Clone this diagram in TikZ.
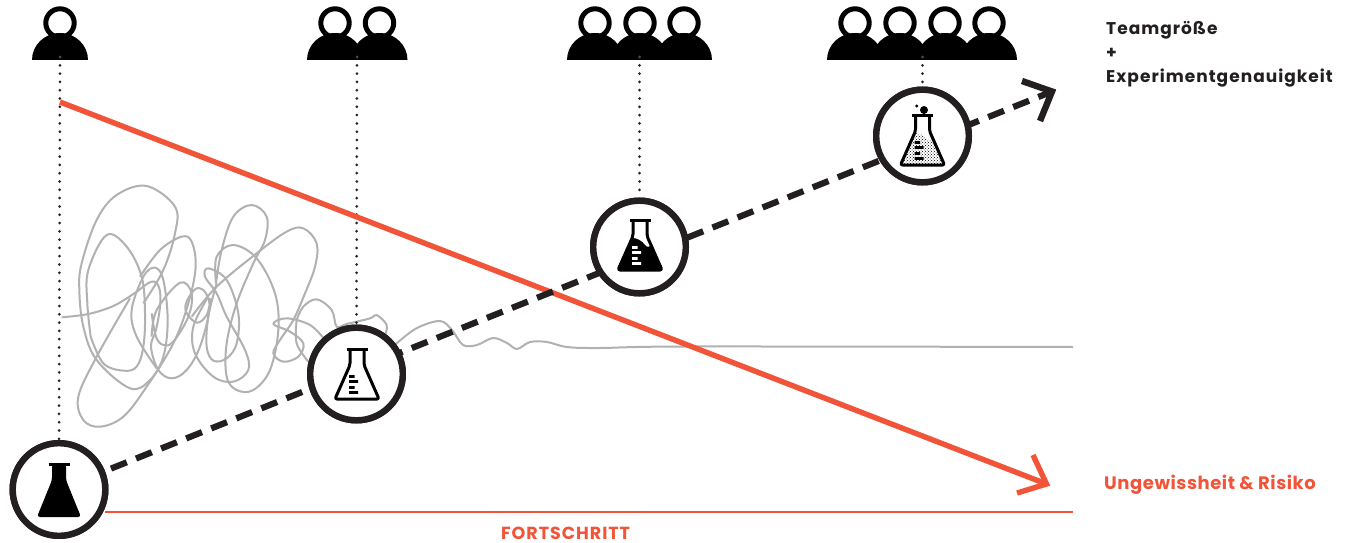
\documentclass[tikz,border=0pt]{standalone}
\usepackage{fontspec}
\setmainfont{Poppins}[BoldFont={Poppins Bold}]
\newfontfamily\laba{Poppins}[BoldFont={Poppins Bold},LetterSpace=6]
\newfontfamily\labb{Poppins}[BoldFont={Poppins Bold},LetterSpace=3]
\newfontfamily\labc{Poppins}[BoldFont={Poppins Bold},LetterSpace=5.5]
\usetikzlibrary{patterns}
\definecolor{ink}{HTML}{231F20}
\definecolor{redline}{HTML}{F15438}
\definecolor{scrib}{HTML}{B1B1B3}
\tikzset{
  x=1pt,y=-1pt,
  stage/.style={circle,draw=ink,line width=6.4pt,fill=white,minimum size=92.6pt,inner sep=0pt},
  dotline/.style={black!85,line width=3pt,line cap=round,dash pattern=on 0pt off 8.3pt},
  scribline/.style={scrib,line width=2pt,line join=round},
  dashline/.style={ink,line width=6.2pt,dash pattern=on 17pt off 10pt},
  headtip/.style={ink,line width=6.4pt,miter limit=10},
  redtip/.style={redline,line width=5.4pt,miter limit=10},
  lab/.style={inner sep=0pt,anchor=base west},
  laba/.style={lab,font=\laba\bfseries\fontsize{17}{19}\selectfont},
  labb/.style={lab,font=\labb\bfseries\fontsize{18}{20}\selectfont},
  labc/.style={lab,font=\labc\bfseries\fontsize{17.5}{19}\selectfont},
  pics/person/.style={code={
    \draw[black,fill=white,line width=5pt] (0,23) circle[radius=14.2];
    \fill[black] (-28,60) arc[start angle=180,end angle=360,x radius=28,y radius=27] -- cycle;
  }},
  pics/flaskshape/.style={code={
    \draw[black,line width=#1,line join=round,rounded corners=2pt] (-7,1)--(-7,17)--(-22,51)--(22,51)--(7,17)--(7,1);
    \draw[black,line width=3pt] (-10.5,1)--(10.5,1);
  }},
}
\newcommand{\ticks}[1]{\fill[#1] (-8,27) rectangle (-2.5,29.8) (-8,32) rectangle (1,34.8) (-8,38) rectangle (-2.5,40.8) (-8,43) rectangle (1,45.8);}
\begin{document}
\begin{tikzpicture}
\useasboundingbox (0,0) rectangle (1349,543);
\fill[white] (0,0) rectangle (1349,543);
% scribble
\begin{scope}[yshift=-170pt,x=0.33333pt,y=-0.33333pt]
\draw[scribline] plot[smooth,tension=0.6] coordinates {(185,442)(265,432)(340,408)(400,372)(455,335)(478,355)(480,410)(468,480)(453,530)(475,600)(515,625)(560,600)(600,530)(628,420)(618,370)(590,355)(562,390)(558,425)(590,458)(620,435)(632,385)};
\draw[scribline] plot[smooth,tension=0.6] coordinates {(430,400)(490,300)(525,190)(525,110)(440,48)(350,75)(290,150)(245,280)(238,360)(250,470)(290,570)(390,655)(450,630)(490,560)(503,450)(490,330)(465,293)(430,320)(395,420)(410,500)(470,595)};
\draw[scribline] plot[smooth,tension=0.6] coordinates {(272,500)(262,400)(265,300)(320,195)(380,230)(425,320)(435,430)(430,530)(410,590)(370,602)(310,580)(272,500)};
\draw[scribline] plot[smooth,tension=0.6] coordinates {(420,320)(480,240)(545,200)(575,215)(587,290)(565,400)(520,520)(440,650)(370,740)(300,770)(250,750)(235,680)(290,560)(390,385)};
\draw[scribline] plot[smooth,tension=0.6] coordinates {(455,500)(470,420)(540,338)(575,370)(565,440)(520,515)(490,525)(468,500)(455,430)};
\draw[scribline] plot[smooth,tension=0.6] coordinates {(625,380)(580,470)(585,550)(640,620)(700,635)(745,600)(735,540)(680,440)(650,370)(615,320)(625,295)(680,330)(715,430)(710,520)(680,565)(640,572)(620,530)(625,440)(650,340)};
\draw[scribline] plot[smooth,tension=0.6] coordinates {(648,340)(665,240)(700,140)(755,105)(800,140)(795,210)(760,280)(710,400)(680,520)(680,620)(710,660)(760,660)(810,600)(835,480)(825,370)(770,265)(700,225)(650,260)(648,340)};
\draw[scribline] plot[smooth,tension=0.6] coordinates {(575,440)(650,350)(770,250)(860,185)(910,175)(950,220)(945,290)(915,370)(880,450)(840,510)(820,550)(850,575)(895,560)(910,520)(870,485)(820,462)(860,445)(930,465)(975,510)};
\draw[scribline] plot[smooth,tension=0.6] coordinates {(890,450)(910,410)(950,388)(995,420)(1010,470)(1040,462)(1110,445)(1130,435)(1160,465)(1155,495)};
\draw[scribline] plot[smooth,tension=0.6] coordinates {(890,450)(890,520)(925,575)};
\end{scope}
\draw[scribline] plot[smooth,tension=0.55] coordinates {(390,350)(397,343)(417,328)(440,321)(452,330)(463,345)(477,345)(493,338)(507,343)(517,349)(530,342)(547,342)(567,347)(600,348)(690,346.5)(1073,347)};
% positions
\node[stage] (c1) at (59,489.5) {};
\node[stage] (c2) at (356.5,374) {};
\node[stage] (c3) at (639.5,247) {};
\node[stage] (c4) at (922.5,136) {};
\coordinate (p1) at (60,57);
\coordinate (p2) at (357,57);
\coordinate (p3) at (639.5,57);
\coordinate (p4) at (922.5,57);
\coordinate (rs) at (60,102);
\coordinate (rt) at (1046.5,484);
\coordinate (rta) at (1033,455);
\coordinate (rtb) at (1017,493);
\coordinate (ds) at (111,468.6);
\coordinate (dt) at (1052,91.5);
\coordinate (dta) at (1022,81);
\coordinate (dtb) at (1040,121);
\coordinate (bs) at (105,512);
\coordinate (be) at (1073,512);
\draw[dotline] (p1)--(c1.north);
\draw[dotline] (p2)--(c2.north);
\draw[dotline] (p3)--(c3.north);
\draw[dotline] (p4)--(c4.north);
\draw[redline,line width=5.4pt] (rs)--(rt);
\draw[redtip] (rta)--(rt)--(rtb);
\draw[redline,line width=2.2pt] (bs)--(be);
\draw[dashline] (ds)--(dt);
\draw[headtip] (dta)--(dt)--(dtb);
\node[stage] at (c1) {};
\node[stage] at (c2) {};
\node[stage] at (c3) {};
\node[stage] at (c4) {};
% flasks
\begin{scope}[shift={(59,463)}]
\fill[black,rounded corners=3pt] (-7,1)--(-7,17)--(-22,54)--(22,54)--(7,17)--(7,1)--cycle;
\draw[black,line width=3pt] (-10.5,1)--(10.5,1);
\end{scope}
\begin{scope}[shift={(357,348)}]
\pic{flaskshape=3pt};
\ticks{black}
\end{scope}
\begin{scope}[shift={(640,219)}]
\fill[black,rounded corners=1pt] (-8,19) .. controls (-3,19) and (2,22) .. (6,27) .. controls (8,29) and (10,27) .. (12,25) -- (22,51)--(-22,51)--cycle;
\pic{flaskshape=3pt};
\ticks{white}
\end{scope}
\begin{scope}[shift={(922.5,114)}]
\fill[pattern=crosshatch dots,pattern color=black] (-8,19) .. controls (-3,19) and (2,22) .. (6,26) .. controls (8,27) and (10,25) .. (12,24) -- (21,50)--(-21,50)--cycle;
\pic{flaskshape=3pt};
\ticks{black}
\fill[black] (1.5,-4) circle[radius=4];
\fill[black] (-5.8,-8) circle[radius=1.7];
\end{scope}
% people
\pic at (60,0) {person};
\pic at (335,0) {person};
\pic at (379.5,0) {person};
\pic at (595,0) {person};
\pic at (640,0) {person};
\pic at (684,0) {person};
\pic at (855,0) {person};
\pic at (900,0) {person};
\pic at (945,0) {person};
\pic at (989,0) {person};
\draw[dotline,black!70] (p1)--++(0,3) (p2)--++(0,3) (p3)--++(0,3) (p4)--++(0,3);
% labels
\node[laba,text=ink] (t1) at (1106,35) {Teamgröße};
\node[laba,text=ink] (t2) at (1106,58.5) {+};
\node[laba,text=ink] (t3) at (1106,82.7) {Experimentgenauigkeit};
\node[labb,text=redline] (t4) at (1104,489.3) {Ungewissheit \& Risiko};
\node[labc,text=redline] (t5) at (501,539) {FORTSCHRITT};
\end{tikzpicture}
\end{document}
